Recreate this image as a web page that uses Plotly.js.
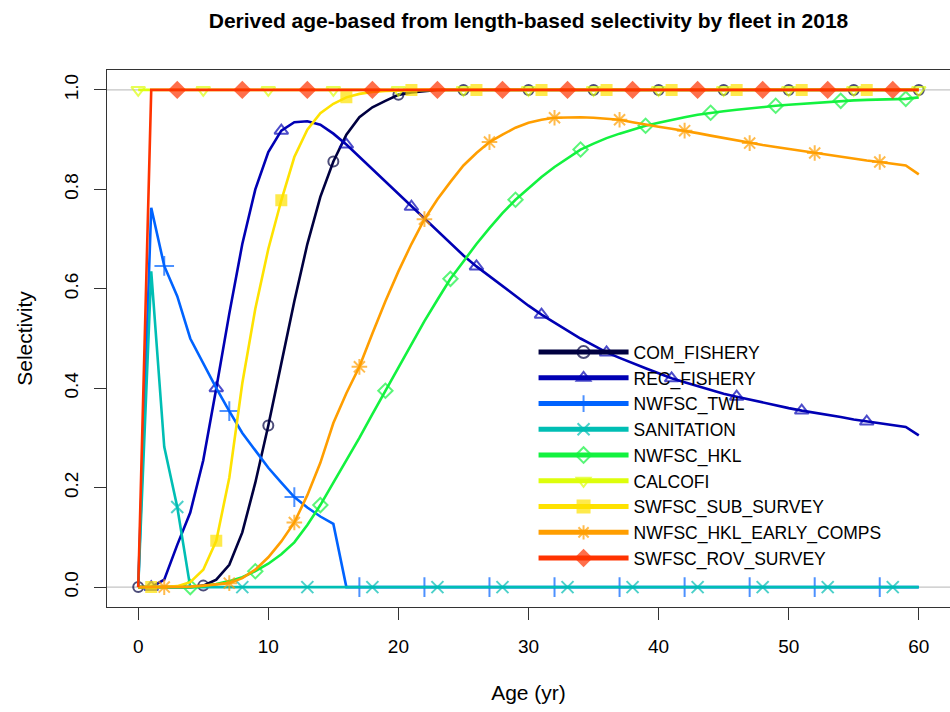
<!DOCTYPE html>
<html>
<head>
<meta charset="utf-8">
<script src="https://cdn.plot.ly/plotly-3.0.1.min.js"></script>
<style>html,body{margin:0;padding:0;background:#fff;}#chart{width:950px;height:712px;}</style>
</head>
<body>
<div id="chart"></div>
<script>
// ---------- data (ages 0..60) ----------
const ages = [0,1,2,3,4,5,6,7,8,9,10,11,12,13,14,15,16,17,18,19,20,21,22,23,24,25,26,27,28,29,30,
  31,32,33,34,35,36,37,38,39,40,41,42,43,44,45,46,47,48,49,50,51,52,53,54,55,56,57,58,59,60];

const fleetNames = ["COM_FISHERY","REC_FISHERY","NWFSC_TWL","SANITATION","NWFSC_HKL",
  "CALCOFI","SWFSC_SUB_SURVEY","NWFSC_HKL_EARLY_COMPS","SWFSC_ROV_SURVEY"];

const comFishery = [0,0,0,0,0,0.003,0.015,0.045,0.11,0.21,0.325,0.45,0.575,0.69,0.785,0.856,0.91,0.945,0.965,0.978,
  0.99,0.995,0.998,1,1,1,1,1,1,1,1,1,1,1,1,1,1,1,1,1,1,1,1,1,1,1,1,1,1,1,1,1,1,1,1,1,1,1,1,1,1];

const recFishery = [0,0,0.015,0.085,0.15,0.255,0.40,0.55,0.69,0.80,0.875,0.918,0.935,0.937,0.93,0.912,0.89,0.865,0.84,0.815,
  0.79,0.765,0.74,0.715,0.69,0.667,0.645,0.625,0.605,0.585,0.566,0.548,0.532,0.515,0.50,0.486,0.472,0.461,0.45,0.44,
  0.43,0.42,0.412,0.404,0.396,0.389,0.383,0.377,0.371,0.366,0.36,0.355,0.351,0.346,0.342,0.337,0.333,0.329,0.326,0.322,0.305];

const nwfscTwl = [0,0.763,0.646,0.585,0.50,0.45,0.40,0.354,0.31,0.275,0.24,0.21,0.181,0.16,0.142,0.127,0,0,0,0,
  0,0,0,0,0,0,0,0,0,0,0,0,0,0,0,0,0,0,0,0,0,0,0,0,0,0,0,0,0,0,0,0,0,0,0,0,0,0,0,0,0];

const sanitation = [0,0.635,0.282,0.161,0,0,0,0,0,0,0,0,0,0,0,0,0,0,0,0,
  0,0,0,0,0,0,0,0,0,0,0,0,0,0,0,0,0,0,0,0,0,0,0,0,0,0,0,0,0,0,0,0,0,0,0,0,0,0,0,0,0];

const nwfscHkl = [0,0,0,0,0,0.002,0.006,0.012,0.02,0.032,0.047,0.066,0.09,0.125,0.165,0.21,0.255,0.30,0.348,0.395,
  0.442,0.489,0.535,0.578,0.62,0.655,0.69,0.722,0.752,0.779,0.802,0.825,0.845,0.863,0.88,0.892,0.903,0.912,0.92,0.928,
  0.934,0.94,0.945,0.95,0.954,0.957,0.96,0.963,0.966,0.968,0.97,0.972,0.974,0.976,0.978,0.979,0.98,0.981,0.982,0.982,0.985];

const calcofi = [1,1,1,1,1,1,1,1,1,1,1,1,1,1,1,1,1,1,1,1,1,1,1,1,1,1,1,1,1,1,
  1,1,1,1,1,1,1,1,1,1,1,1,1,1,1,1,1,1,1,1,1,1,1,1,1,1,1,1,1,1,1];

const swfscSubSurvey = [0,0,0,0.002,0.01,0.035,0.093,0.22,0.41,0.56,0.68,0.778,0.865,0.92,0.953,0.972,0.985,0.992,0.996,0.998,
  0.999,1,1,1,1,1,1,1,1,1,1,1,1,1,1,1,1,1,1,1,1,1,1,1,1,1,1,1,1,1,1,1,1,1,1,1,1,1,1,1,1];

const nwfscHklEarly = [0,0,0,0,0.001,0.003,0.005,0.008,0.018,0.035,0.06,0.092,0.13,0.185,0.25,0.33,0.39,0.443,0.51,0.575,
  0.635,0.69,0.74,0.78,0.815,0.848,0.873,0.895,0.91,0.924,0.934,0.94,0.944,0.945,0.945,0.944,0.942,0.94,0.935,0.93,
  0.926,0.922,0.918,0.913,0.908,0.903,0.898,0.893,0.889,0.885,0.881,0.877,0.873,0.869,0.866,0.862,0.858,0.855,0.851,0.848,0.83];

const swfscRovSurvey = [0,1,1,1,1,1,1,1,1,1,1,1,1,1,1,1,1,1,1,1,1,1,1,1,1,1,1,1,1,1,
  1,1,1,1,1,1,1,1,1,1,1,1,1,1,1,1,1,1,1,1,1,1,1,1,1,1,1,1,1,1,1];

const xTicks = [0,10,20,30,40,50,60];
const yTicks = [0,0.2,0.4,0.6,0.8,1.0];

// ---------- styles ----------
const series = [comFishery, recFishery, nwfscTwl, sanitation, nwfscHkl, calcofi, swfscSubSurvey, nwfscHklEarly, swfscRovSurvey];
const colors = ["#000040","#0000B4","#0063FF","#00BEB4","#13F23F","#DDFE0B","#FEE201","#FF9E00","#FF3300"];
const symbols = ["circle-open","triangle-up-open","cross-thin-open","x-thin-open","diamond-open",
  "triangle-down-open","square","asterisk-open","diamond"];
const msizes = [10,12,14,12,11,12,10,13,12];
const FONT = "Liberation Sans, Arial, Helvetica, sans-serif";

const traces = series.map((vals, k) => {
  const off = k % 5;
  const sizes = ages.map((a, i) => (i >= off && (i - off) % 5 === 0) ? msizes[k] : 0);
  return {
    x: ages, y: vals, name: fleetNames[k], type: "scatter", mode: "lines+markers",
    line: {color: colors[k], width: 2.6},
    marker: {symbol: symbols[k], size: sizes, color: colors[k], line: {color: colors[k], width: 2}},
    cliponaxis: false
  };
});

const layout = {
  width: 950, height: 712,
  margin: {l: 107, r: 0, t: 70, b: 105},
  paper_bgcolor: "#fff", plot_bgcolor: "#fff",
  font: {family: FONT, color: "#000", size: 19},
  title: {text: "<b>Derived age-based from length-based selectivity by fleet in 2018</b>",
    font: {family: FONT, size: 21, color: "#000"}, x: 0.5, xref: "paper", y: 1 - 21/712, yref: "container", yanchor: "middle"},
  xaxis: {range: [-2.4, 62.4], tickvals: xTicks, ticks: "outside", ticklen: 12, tickwidth: 1.2, tickcolor: "#333",
    showline: true, mirror: true, linecolor: "#333", linewidth: 1.2, showgrid: false, zeroline: false,
    ticklabelstandoff: 10,
    tickfont: {size: 19}, title: {text: "Age (yr)", font: {size: 21}, standoff: 29}},
  yaxis: {range: [-0.04, 1.04], tickvals: yTicks, tickformat: ".1f", tickangle: -90, ticks: "outside", ticklen: 12,
    tickwidth: 1.2, tickcolor: "#333", showline: true, mirror: true, linecolor: "#333", linewidth: 1.2,
    ticklabelstandoff: 8,
    showgrid: false, zeroline: false, tickfont: {size: 19}, title: {text: "Selectivity", font: {size: 21}, standoff: 22}},
  shapes: [0, 1].map(v => ({type: "line", xref: "paper", x0: 0, x1: 1, yref: "y", y0: v, y1: v,
    line: {color: "#c4c4c4", width: 1.2}, layer: "below"})),
  legend: {x: 0.506, y: 0.508, xanchor: "left", yanchor: "top", bgcolor: "rgba(0,0,0,0)", borderwidth: 0,
    font: {size: 17.5, color: "#000"}, itemsizing: "constant", tracegroupgap: 0, itemwidth: 90},
  showlegend: true
};

Plotly.newPlot("chart", traces, layout, {displayModeBar: false, staticPlot: true});
</script>
</body>
</html>
